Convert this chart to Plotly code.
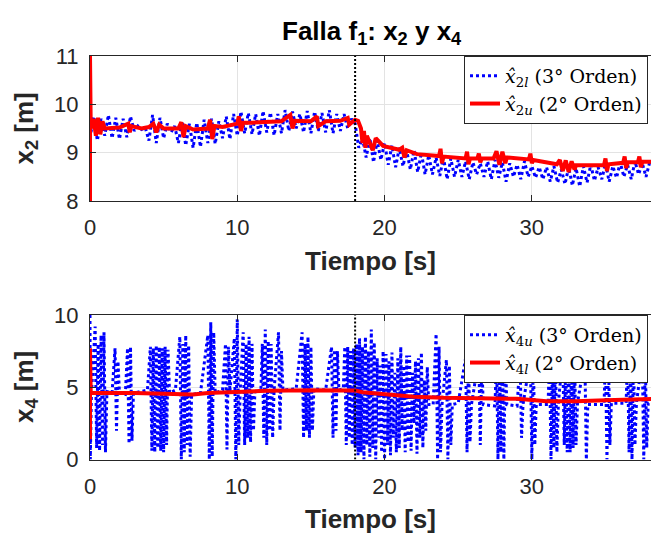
import numpy as np
import plotly.graph_objects as go

# ---------------- data ----------------
fault_t = 18.0

x_ticks = [0, 10, 20, 30]
y2_ticks = [8, 9, 10, 11]
y4_ticks = [0, 5, 10]

# top panel: x2 lower estimate (3rd order) sampled every 0.25 s
x2l_t = np.round(np.arange(0, 38.001, 0.25), 2)
x2l_v = [
    9.30, 9.75, 9.25, 9.70,  9.35, 9.78, 9.30, 9.72,  9.28, 9.70, 9.32, 9.75,
    9.45, 9.55, 9.48, 9.52,  9.25, 9.78, 9.20, 9.72,  9.30, 9.60, 9.42, 9.55,
    9.20, 9.65, 9.15, 9.60,  9.10, 9.62, 9.12, 9.68,  9.20, 9.70, 9.18, 9.65,
    9.30, 9.75, 9.28, 9.80,  9.35, 9.85, 9.40, 9.82,  9.38, 9.80, 9.35, 9.86,
    9.42, 9.83, 9.36, 9.80,  9.40, 9.88, 9.45, 9.85,  9.50, 9.80, 9.42, 9.86,
    9.40, 9.85, 9.45, 9.82,  9.42, 9.88, 9.40, 9.80,  9.45, 9.80, 9.50, 9.70,
    9.60, 9.10, 9.30, 8.90,  9.30, 8.80, 9.25, 8.85,  9.20, 8.75, 9.15, 8.70,
    9.10, 8.72, 9.05, 8.65,  9.05, 8.60, 9.00, 8.55,  8.95, 8.55, 8.90, 8.52,
    8.90, 8.45, 8.88, 8.50,  8.85, 8.50, 8.82, 8.45,  8.80, 8.55, 8.78, 8.50,
    8.82, 8.45, 8.85, 8.48,  8.80, 8.40, 8.78, 8.50,  8.75, 8.45, 8.82, 8.50,
    8.72, 8.48, 8.70, 8.45,  8.70, 8.40, 8.72, 8.38,  8.65, 8.35, 8.70, 8.32,
    8.68, 8.30, 8.72, 8.38,  8.75, 8.42, 8.70, 8.45,  8.78, 8.40, 8.72, 8.48,
    8.80, 8.50, 8.75, 8.45,  8.82, 8.55, 8.78, 8.50,
    8.80,
]

# top panel: x2 upper estimate (2nd order)
x2u_t = [0, 0, 0.05, 0.25, 0.4, 0.55, 0.7, 0.85, 1.0, 2.0, 2.6, 2.7, 2.8, 3.5,
         4.0, 4.3, 4.5, 4.7, 5.0, 6.0, 6.2, 6.35, 6.5, 7.0, 8.0, 8.15, 8.3,
         8.45, 9.0, 10.0, 10.1, 10.25, 10.4, 11.0, 12.0, 13.0, 13.6, 13.75,
         13.9, 15.0, 15.4, 15.5, 16.0, 17.0, 17.5, 17.6, 18.0, 18.2, 18.4,
         18.5, 18.6, 18.7, 18.8, 19.0, 19.2, 19.4, 19.9, 21.0, 21.2, 21.35,
         21.5, 22.2, 23.7, 23.8, 23.9, 24.0, 25.5, 25.6, 25.7, 25.8, 26.3,
         26.4, 26.5, 26.6, 27.4, 27.6, 27.8, 28.0, 28.2, 28.3, 29.8, 29.9,
         30.0, 30.1, 31.7, 31.9, 32.1, 32.3, 32.5, 32.7, 32.9, 33.0, 34.9,
         35.0, 35.1, 35.2, 36.2, 36.3, 36.4, 36.5, 37.2, 37.3, 37.4, 37.5, 38.2]
x2u_v = [8.0, 11.0, 9.50, 9.70, 9.35, 9.72, 9.38, 9.65, 9.50, 9.52, 9.60, 9.42,
         9.55, 9.50, 9.53, 9.60, 9.42, 9.58, 9.50, 9.50, 9.63, 9.32, 9.55,
         9.48, 9.50, 9.68, 9.28, 9.55, 9.53, 9.60, 9.75, 9.45, 9.62, 9.62,
         9.64, 9.65, 9.78, 9.50, 9.66, 9.65, 9.75, 9.55, 9.65, 9.66, 9.72,
         9.58, 9.68, 9.66, 9.50, 9.20, 9.45, 9.10, 9.35, 9.20, 9.05, 9.30,
         9.14, 9.06, 9.10, 8.90, 9.05, 8.97, 8.93, 9.08, 8.78, 8.92, 8.88,
         9.02, 8.76, 8.88, 8.88, 8.98, 8.80, 8.88, 8.88, 9.03, 8.75, 9.02,
         8.78, 8.90, 8.86, 8.98, 8.78, 8.85, 8.76, 8.85, 8.62, 8.84, 8.60,
         8.82, 8.65, 8.74, 8.74, 8.88, 8.62, 8.76, 8.79, 8.92, 8.68, 8.80,
         8.80, 8.92, 8.70, 8.81, 8.81]

# bottom panel: x4 upper estimate (3rd order)
x4u_t = [0, 0.02, 0.1, 0.35, 0.45, 0.55, 0.65, 0.75, 0.85, 0.95, 1.05, 1.15,
         1.5, 1.7, 1.8, 1.9, 2.0, 2.4, 2.55, 2.65, 2.75, 2.85, 2.95, 3.5, 3.9,
         4.1, 4.2, 4.3, 4.4, 4.5, 4.6, 4.7, 4.8, 4.9, 5.0, 5.1, 5.2, 5.3, 5.4,
         5.8, 6.1, 6.2, 6.3, 6.4, 6.5, 6.6, 6.7, 6.8, 6.9, 7.5, 8.0, 8.1, 8.2,
         8.3, 8.4, 8.5, 9.0, 9.2, 9.3, 9.4, 9.5, 9.8, 9.9, 10.0, 10.1, 10.2,
         10.4, 10.5, 10.6, 10.7, 10.8, 10.9, 11.0, 11.1, 11.2, 11.6, 11.7, 11.8,
         11.9, 12.0, 12.1, 12.2, 12.3, 12.4, 12.5, 12.8, 12.9, 13.0, 13.1, 14.0,
         14.4, 14.5, 14.6, 14.7, 14.8, 14.9, 15.0, 15.1, 15.2, 16.0, 16.4, 16.5,
         16.6, 16.7, 16.8, 16.9, 17.2, 17.3, 17.4, 17.5, 17.6, 17.7, 17.8, 17.9,
         18.0, 18.1, 18.2, 18.3, 18.4, 18.5, 18.6, 18.7, 18.8, 18.9, 19.0, 19.1,
         19.2, 19.3, 19.4, 19.5, 19.6, 19.7, 19.8, 19.9, 20.0, 20.1, 20.2, 20.3,
         20.4, 20.5, 20.6, 20.7, 20.8, 20.9, 21.0, 21.1, 21.2, 21.3, 21.4, 21.5,
         21.6, 21.7, 21.8, 21.9, 22.0, 22.1, 22.2, 22.3, 22.4, 22.5, 22.6, 22.7,
         22.8, 22.9, 23.0, 23.3, 23.5, 23.6, 23.7, 23.8, 23.9, 24.2, 24.3, 24.4,
         24.5, 24.6, 25.0, 25.5, 25.6, 25.7, 25.8, 25.9, 26.4, 26.5, 26.6, 26.7,
         27.5, 27.6, 27.7, 27.8, 27.9, 28.0, 28.1, 28.2, 28.3, 29.0, 29.2, 29.3,
         29.4, 29.9, 30.0, 30.1, 30.2, 30.3, 31.1, 31.2, 31.3, 31.4, 31.5, 31.6,
         31.7, 31.8, 32.1, 32.2, 32.3, 32.4, 32.5, 32.6, 32.7, 32.8, 32.9, 33.0,
         33.1, 33.6, 33.7, 33.8, 34.9, 35.0, 35.1, 35.2, 35.3, 35.4, 36.4, 36.5,
         36.6, 36.7, 36.8, 36.9, 37.0, 37.1, 37.5, 37.6, 37.7, 37.8, 37.9, 38.2]
x4u_v = [10.0, 0.0, 4.6, 9.2, 0.8, 8.0, 0.6, 8.6, 1.0, 8.8, 0.5, 4.7,
         4.6, 7.7, 2.0, 6.8, 4.6, 4.5, 7.7, 1.1, 7.8, 1.3, 4.6, 4.7, 4.8,
         7.8, 0.6, 7.7, 0.5, 7.9, 0.8, 7.8, 0.6, 7.7, 0.5, 7.8, 1.0, 7.6, 4.6,
         4.8, 8.5, 0.0, 8.0, 0.5, 8.6, 1.0, 7.9, 0.2, 4.5, 4.6, 8.6, 0.0, 9.5,
         0.2, 8.8, 4.6, 4.8, 8.0, 0.7, 7.8, 4.7, 8.4, 0.0, 9.7, 1.0, 4.8,
         8.8, 1.0, 8.0, 1.5, 8.5, 1.2, 8.0, 2.0, 4.8, 4.7, 8.0, 1.5,
         9.0, 1.0, 8.2, 2.0, 8.0, 1.5, 4.8, 8.8, 2.0, 7.5, 4.8, 4.9,
         8.8, 1.5, 8.0, 2.0, 8.5, 1.5, 7.8, 2.0, 4.9, 4.8, 7.8, 1.5,
         7.6, 2.0, 7.5, 4.8, 4.9, 7.8, 1.0, 7.8, 1.5, 7.5, 1.0, 7.7,
         0.8, 8.0, 0.3, 8.4, 0.5, 7.8, 0.0, 8.5, 1.0, 7.5, 0.2, 9.0,
         0.8, 8.1, 0.0, 7.0, 1.5, 6.5, 0.5, 7.5, 0.0, 7.3, 1.0, 6.8,
         0.3, 7.4, 1.5, 6.0, 0.5, 7.0, 0.8, 7.8, 2.0, 6.5, 0.5, 7.2,
         1.2, 7.2, 0.6, 6.0, 2.5, 6.8, 0.4, 7.0, 1.5, 7.4, 0.8, 5.5,
         2.0, 6.4, 3.8, 3.8, 8.7, 0.0, 7.8, 0.5, 3.8, 6.9, 0.0, 6.5,
         1.0, 3.8, 3.9, 7.0, 0.5, 7.2, 1.2, 3.8, 7.0, 1.0, 6.8, 3.8,
         3.7, 7.5, 0.0, 7.8, 0.5, 7.5, 0.0, 7.2, 3.8, 3.7, 7.0, 1.5,
         3.8, 7.0, 0.0, 7.2, 1.0, 3.8, 3.8, 7.0, 0.0, 7.0, 0.8, 7.5,
         0.5, 3.9, 7.2, 1.0, 7.0, 0.5, 6.8, 0.5, 7.0, 0.8, 7.2, 1.0,
         3.9, 7.0, 0.0, 3.8, 3.8, 7.0, 0.0, 7.2, 1.0, 3.9, 3.9, 7.2,
         0.5, 7.0, 0.0, 7.4, 1.0, 3.9, 7.0, 0.0, 7.2, 0.8, 3.9, 3.9]

# bottom panel: x4 lower estimate (2nd order)
x4l_t = [0, 0, 0.05, 3.0, 5.0, 7.0, 8.0, 10.0, 12.0, 15.0, 17.0, 18.0, 18.5,
         20.0, 22.0, 24.0, 27.0, 29.0, 31.0, 33.0, 35.0, 36.5, 38.2]
x4l_v = [1.4, 7.7, 4.6, 4.6, 4.55, 4.5, 4.6, 4.7, 4.75, 4.8, 4.78, 4.78, 4.65,
         4.5, 4.35, 4.27, 4.22, 4.2, 4.03, 4.03, 4.1, 4.15, 4.19]

# ---------------- figure ----------------
W, H = 651, 535
BLUE, RED, AX = "#0000ff", "#ff0000", "#262626"
SANS = "Liberation Sans, Arial, sans-serif"
SERIF = "DejaVu Serif, serif"

fig = go.Figure()

fig.add_trace(go.Scatter(x=x2l_t, y=x2l_v, mode="lines",
                         line=dict(color=BLUE, width=3, dash="dot"),
                         name="<i>x̂</i><sub>2<i>l</i></sub> (3° Orden)",
                         legendgroup="a", xaxis="x", yaxis="y", legend="legend"))
fig.add_trace(go.Scatter(x=x2u_t, y=x2u_v, mode="lines",
                         line=dict(color=RED, width=4),
                         name="<i>x̂</i><sub>2<i>u</i></sub> (2° Orden)",
                         legendgroup="b", xaxis="x", yaxis="y", legend="legend"))
fig.add_trace(go.Scatter(x=[fault_t, fault_t], y=[y2_ticks[0], y2_ticks[-1]],
                         mode="lines", line=dict(color="black", width=2, dash="2px,2px"),
                         showlegend=False, hoverinfo="skip", xaxis="x", yaxis="y"))

fig.add_trace(go.Scatter(x=x4u_t, y=x4u_v, mode="lines",
                         line=dict(color=BLUE, width=3, dash="dot"),
                         name="<i>x̂</i><sub>4<i>u</i></sub> (3° Orden)",
                         legendgroup="c", xaxis="x2", yaxis="y2", legend="legend2"))
fig.add_trace(go.Scatter(x=x4l_t, y=x4l_v, mode="lines",
                         line=dict(color=RED, width=4),
                         name="<i>x̂</i><sub>4<i>l</i></sub> (2° Orden)",
                         legendgroup="d", xaxis="x2", yaxis="y2", legend="legend2"))
fig.add_trace(go.Scatter(x=[fault_t, fault_t], y=[y4_ticks[0], y4_ticks[-1]],
                         mode="lines", line=dict(color="black", width=2, dash="2px,2px"),
                         showlegend=False, hoverinfo="skip", xaxis="x2", yaxis="y2"))

x_left = 90 / W
top_dom = [1 - 201 / H, 1 - 56 / H]
bot_dom = [1 - 459.5 / H, 1 - 315 / H]

xcommon = dict(range=[0, 38.09], tickvals=x_ticks, ticks="inside", ticklen=6,
               tickcolor=AX, showline=True, linecolor=AX, linewidth=1,
               mirror="ticks", showgrid=True, gridcolor="#e3e3e3", gridwidth=1,
               zeroline=False, tickfont=dict(family=SANS, size=22, color=AX),
               ticklabelstandoff=7, automargin=False, domain=[x_left, 1])
ycommon = dict(ticks="inside", ticklen=6, tickcolor=AX, showline=True,
               linecolor=AX, linewidth=1, mirror=False, showgrid=True,
               gridcolor="#e3e3e3", gridwidth=1, zeroline=False,
               tickfont=dict(family=SANS, size=22, color=AX),
               ticklabelstandoff=6, automargin=False)

legcommon = dict(x=648 / W, xanchor="right", bgcolor="white", bordercolor=AX,
                 borderwidth=1, font=dict(family=SERIF, size=19, color="black"),
                 tracegroupgap=0, traceorder="grouped", itemwidth=30)

fig.update_layout(
    width=W, height=H, margin=dict(l=0, r=0, t=0, b=0),
    paper_bgcolor="white", plot_bgcolor="white", showlegend=True,
    xaxis=dict(**xcommon, anchor="y"),
    yaxis=dict(**ycommon, range=[8, 11], tickvals=y2_ticks, domain=top_dom, anchor="x"),
    xaxis2=dict(**xcommon, anchor="y2"),
    yaxis2=dict(**ycommon, range=[0, 10], tickvals=y4_ticks, domain=bot_dom, anchor="x2"),
    legend=dict(**legcommon, y=top_dom[1], yanchor="top"),
    legend2=dict(**legcommon, y=bot_dom[1], yanchor="top"),
    annotations=[
        dict(text="<b>Falla f<sub>1</sub>: x<sub>2</sub> y x<sub>4</sub></b>",
             x=372 / W, y=1 - 32 / H, xref="paper", yref="paper",
             xanchor="center", yanchor="middle", showarrow=False,
             font=dict(family=SANS, size=26, color="black")),
        dict(text="<b>Tiempo [s]</b>", x=370 / W, y=1 - 261 / H, xref="paper",
             yref="paper", xanchor="center", yanchor="middle", showarrow=False,
             font=dict(family=SANS, size=26, color=AX)),
        dict(text="<b>Tiempo [s]</b>", x=370 / W, y=1 - 519 / H, xref="paper",
             yref="paper", xanchor="center", yanchor="middle", showarrow=False,
             font=dict(family=SANS, size=26, color=AX)),
        dict(text="<b>x<sub>2</sub> [m]</b>", x=25 / W, y=1 - 128.5 / H,
             xref="paper", yref="paper", xanchor="center", yanchor="middle",
             textangle=-90, showarrow=False, font=dict(family=SANS, size=26, color=AX)),
        dict(text="<b>x<sub>4</sub> [m]</b>", x=25 / W, y=1 - 387 / H,
             xref="paper", yref="paper", xanchor="center", yanchor="middle",
             textangle=-90, showarrow=False, font=dict(family=SANS, size=26, color=AX)),
    ],
)

fig.write_html(
    "out.html",
    config={"displayModeBar": False},
    post_script="document.body.style.margin='0';document.body.style.overflow='hidden';",
)
